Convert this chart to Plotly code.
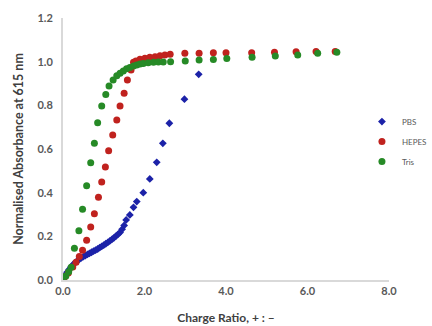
import plotly.graph_objects as go

# PBS (blue diamonds)
pbs_x = [0.0, 0.05, 0.1, 0.15, 0.2, 0.25, 0.3, 0.35, 0.4, 0.45, 0.5, 0.55, 0.6, 0.65, 0.7,
         0.75, 0.8, 0.85, 0.9, 0.95, 1.0, 1.05, 1.1, 1.15, 1.2, 1.25, 1.3, 1.35, 1.4, 1.45,
         1.5, 1.55, 1.64, 1.73, 1.81, 1.97, 2.13, 2.30, 2.45, 2.61, 2.98, 3.33]
pbs_y = [0.0, 0.02, 0.035, 0.048, 0.06, 0.071, 0.08, 0.088, 0.095, 0.101, 0.107, 0.112, 0.117,
         0.122, 0.127, 0.132, 0.137, 0.142, 0.148, 0.154, 0.16, 0.166, 0.172, 0.179, 0.186,
         0.193, 0.201, 0.209, 0.218, 0.232, 0.25, 0.275, 0.298, 0.333, 0.359, 0.40, 0.463,
         0.539, 0.626, 0.718, 0.828, 0.942]

# HEPES (red circles)
hepes_x = [0.0, 0.05, 0.13, 0.24, 0.32, 0.40, 0.48, 0.58, 0.68, 0.77, 0.87, 0.95, 1.04, 1.12,
           1.22, 1.32, 1.40, 1.50, 1.58, 1.67, 1.73, 1.79, 1.89, 2.01, 2.13, 2.26, 2.38, 2.50,
           2.63, 2.99, 3.34, 3.69, 4.0, 4.63, 5.19, 5.72, 6.21, 6.68]
hepes_y = [0.0, 0.015, 0.032, 0.06, 0.081, 0.108, 0.136, 0.182, 0.243, 0.304, 0.379, 0.449,
           0.518, 0.592, 0.664, 0.733, 0.797, 0.855, 0.916, 0.962, 0.997, 1.003, 1.011, 1.016,
           1.02, 1.023, 1.027, 1.03, 1.034, 1.038, 1.038, 1.041, 1.041, 1.041, 1.043, 1.045,
           1.046, 1.046]

# Tris (green circles)
tris_x = [0.0, 0.07, 0.14, 0.2, 0.28, 0.39, 0.48, 0.58, 0.68, 0.77, 0.85, 0.95, 1.05, 1.13,
          1.23, 1.32, 1.40, 1.48, 1.56, 1.64, 1.73, 1.81, 1.89, 1.97, 2.09, 2.22, 2.34, 2.46,
          2.64, 3.0, 3.34, 3.69, 4.02, 4.64, 5.21, 5.76, 6.25, 6.72]
tris_y = [0.0, 0.018, 0.038, 0.058, 0.145, 0.226, 0.324, 0.432, 0.537, 0.626, 0.72, 0.797,
          0.85, 0.889, 0.916, 0.935, 0.947, 0.957, 0.967, 0.973, 0.98, 0.985, 0.989, 0.992,
          0.995, 0.997, 0.998, 0.999, 1.0, 1.003, 1.008, 1.01, 1.015, 1.02, 1.026, 1.03,
          1.038, 1.043]

y_ticks = [0.0, 0.2, 0.4, 0.6, 0.8, 1.0, 1.2]
x_ticks = [0.0, 2.0, 4.0, 6.0, 8.0]

FONT = "Lato"

fig = go.Figure()
fig.add_trace(go.Scatter(x=pbs_x, y=pbs_y, mode="markers", name="PBS", legendgroup="a",
                         marker=dict(symbol="diamond", size=6, color="#1c22a8")))
fig.add_trace(go.Scatter(x=hepes_x, y=hepes_y, mode="markers", name="HEPES", legendgroup="b",
                         marker=dict(symbol="circle", size=7, color="#c0221e")))
fig.add_trace(go.Scatter(x=tris_x, y=tris_y, mode="markers", name="Tris", legendgroup="c",
                         marker=dict(symbol="circle", size=7, color="#268a26")))

fig.update_layout(
    width=432, height=326,
    margin=dict(l=63, r=43, t=18, b=46, autoexpand=False),
    paper_bgcolor="white", plot_bgcolor="white",
    font=dict(family=FONT, color="#595959"),
    legend=dict(x=0.917, xanchor="left", y=0.66, yanchor="top",
                font=dict(size=8, color="#595959"), tracegroupgap=1,
                itemwidth=30, bgcolor="rgba(0,0,0,0)"),
    xaxis=dict(range=[0, 8], tickvals=x_ticks, tickformat=".1f", showgrid=False,
               zeroline=False, showline=True, linecolor="#d9d9d9", linewidth=2,
               ticks="", tickfont=dict(size=11, family=FONT, weight="bold", color="#595959"),
               title=dict(text="Charge Ratio, + : \u2013", standoff=17,
                          font=dict(size=12, family=FONT, weight="bold", color="#404040"))),
    yaxis=dict(range=[0, 1.2], tickvals=y_ticks, tickformat=".1f", showgrid=False,
               zeroline=False, showline=True, linecolor="#d9d9d9", linewidth=2,
               ticks="", ticklabelstandoff=6,
               tickfont=dict(size=11, family=FONT, weight="bold", color="#595959"),
               title=dict(text="Normalised Absorbance at 615 nm", standoff=11,
                          font=dict(size=12.5, family=FONT, weight="bold", color="#404040"))),
)

fig.write_html("out.html", config={"displayModeBar": False},
               post_script="document.body.style.margin='0';document.body.style.overflow='hidden';")
